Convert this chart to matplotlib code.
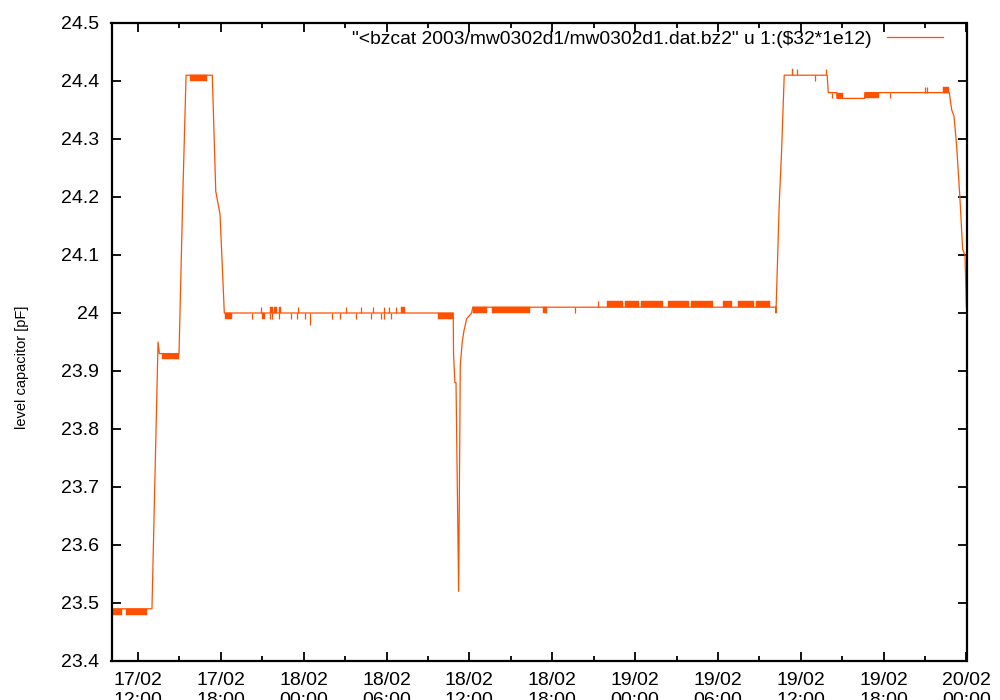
import datetime as dt
import matplotlib
matplotlib.use("Agg")
import matplotlib.pyplot as plt
import matplotlib.dates as mdates
from matplotlib.ticker import FuncFormatter, MultipleLocator

plt.rcParams['font.family'] = ['Liberation Sans', 'DejaVu Sans']

t0 = dt.datetime(2003, 2, 17)
series_label = '"<bzcat 2003/mw0302d1/mw0302d1.dat.bz2" u 1:(\\$32*1e12)'
line_color = '#ff5000'

# main trace: hours since 17/02 00:00 -> level capacitor in pF
line_hours = [10.0, 13.01, 13.45, 13.55, 14.97, 15.24, 15.48, 17.38, 17.63, 17.94,
              18.25, 34.83, 34.85, 34.95, 35.03, 35.22, 35.27, 35.34, 35.48, 35.61,
              35.80, 36.16, 36.24, 58.18, 58.20, 58.44, 58.61, 58.80, 61.91, 61.99,
              62.60, 62.62, 64.62, 64.64, 70.75, 70.93, 71.09, 71.28, 71.52, 71.72,
              71.89, 71.99]
line_pf = [23.49, 23.49, 23.95, 23.93, 23.93, 24.20, 24.41, 24.41, 24.21, 24.17,
           24.00, 24.00, 23.93, 23.88, 23.88, 23.52, 23.68, 23.91, 23.95, 23.97,
           23.99, 24.00, 24.01, 24.01, 24.00, 24.19, 24.28, 24.41, 24.41, 24.38,
           24.38, 24.37, 24.37, 24.38, 24.38, 24.35, 24.34, 24.29, 24.20, 24.11,
           24.10, 24.01]

# dense digitisation noise: start hour, end hour, low pF, high pF
band_start = [10.22, 11.13, 13.74, 15.77, 18.30, 21.00, 21.56, 21.87, 22.19, 31.04,
              33.75, 36.26, 37.63, 41.33, 45.96, 47.25, 48.45, 50.38, 52.05, 54.36,
              55.45, 56.75, 59.34, 62.64, 64.64, 70.27]
band_end = [10.87, 12.65, 14.97, 17.00, 18.81, 21.17, 21.78, 22.04, 22.36, 31.33,
            34.79, 37.27, 40.38, 41.62, 47.10, 48.30, 50.02, 51.90, 53.64, 55.02,
            56.60, 57.77, 59.46, 63.03, 65.68, 70.75]
band_lo = [23.48, 23.48, 23.92, 24.40, 23.99, 23.99, 24.00, 24.00, 24.00, 24.00,
           23.99, 24.00, 24.00, 24.00, 24.01, 24.01, 24.01, 24.01, 24.01, 24.01,
           24.01, 24.01, 24.41, 24.37, 24.37, 24.38]
band_hi = [23.49, 23.49, 23.93, 24.41, 24.00, 24.00, 24.01, 24.01, 24.01, 24.01,
           24.00, 24.01, 24.01, 24.01, 24.02, 24.02, 24.02, 24.02, 24.02, 24.02,
           24.02, 24.02, 24.42, 24.38, 24.38, 24.39]

# isolated single-sample spikes
spike_hours = [20.91, 23.56, 27.08, 28.15, 29.04, 29.84, 30.20, 30.66,
               20.28, 21.58, 21.72, 22.19, 23.06, 23.49, 24.07, 26.05, 26.65,
               27.76, 28.85, 29.57, 29.81, 30.34, 24.43,
               43.64, 45.31, 59.70, 61.84, 61.03, 62.23, 66.45, 68.99, 69.16]
spike_base = [24.00] * 8 + [24.00] * 14 + [24.00] + \
             [24.01, 24.01, 24.41, 24.41, 24.41, 24.38, 24.38, 24.38, 24.38]
spike_pf = [24.01] * 8 + [23.99] * 14 + [23.98] + \
           [24.00, 24.02, 24.42, 24.42, 24.40, 24.37, 24.37, 24.39, 24.39]


def to_dt(h):
    return t0 + dt.timedelta(hours=h)


fig = plt.figure(figsize=(10, 7), dpi=100)
ax = fig.add_axes([0.1115, 1 - 661 / 700, 0.855, 638 / 700])

for s, e, lo, hi in zip(band_start, band_end, band_lo, band_hi):
    ax.fill_between([to_dt(s), to_dt(e)], [lo, lo], [hi, hi],
                    color=line_color, lw=0.3)
ax.vlines([to_dt(h) for h in spike_hours], spike_base, spike_pf,
          color=line_color, lw=0.9)
ax.plot([to_dt(h) for h in line_hours], line_pf, color=line_color, lw=0.9,
        label=series_label)

ax.set_xlim(to_dt(10.08), to_dt(72.0))
ax.set_ylim(23.4, 24.5)
ax.xaxis.set_major_locator(mdates.HourLocator(byhour=[0, 6, 12, 18]))
ax.xaxis.set_minor_locator(mdates.HourLocator(byhour=[3, 9, 15, 21]))
ax.xaxis.set_major_formatter(mdates.DateFormatter('%d/%m\n%H:%M'))
ax.yaxis.set_major_locator(MultipleLocator(0.1))
ax.yaxis.set_major_formatter(FuncFormatter(lambda v, p: f"{round(v, 1):g}"))

ax.tick_params(which='both', direction='in', top=True, right=True,
               labelsize=14, width=1.3, color='black')
ax.tick_params(which='major', length=6.5)
ax.tick_params(which='minor', length=3.3)
ax.tick_params(axis='y', pad=9)
ax.tick_params(axis='x', pad=8)
for sp in ax.spines.values():
    sp.set_linewidth(1.6)

ax.set_ylabel('level capacitor [pF]', fontsize=10.5)
ax.yaxis.set_label_coords(-0.097, 0.461)

ax.legend(loc='upper right', bbox_to_anchor=(0.9725, 0.988), frameon=False,
          markerfirst=False, fontsize=13.9, handlelength=2.9,
          handletextpad=0.8, borderpad=0, borderaxespad=0)

fig.savefig('out.png', dpi=100)
